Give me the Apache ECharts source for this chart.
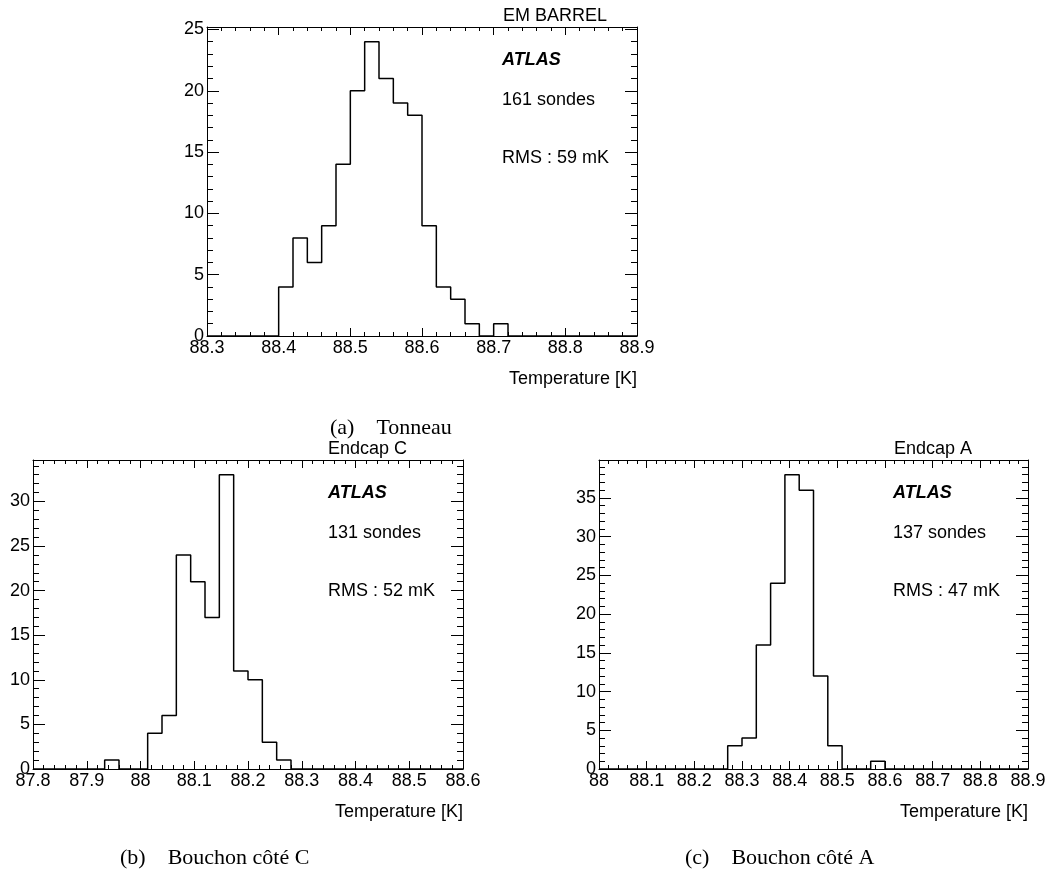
<!DOCTYPE html>
<html>
<head>
<meta charset="utf-8">
<script src="https://cdn.jsdelivr.net/npm/echarts@6/dist/echarts.min.js"></script>
<style>
html,body{margin:0;padding:0;background:#fff;}
#chart{width:1056px;height:879px;}
</style>
</head>
<body>
<div id="chart"></div>
<script>
// ---- Data (counts per bin) ----
const barrelMin = 88.3, barrelMax = 88.9, barrelBin = 0.02;
const barrelCounts = [0,0,0,0,0, 4,8,6,9,14, 20,24,21,19,18, 9,4,3,1,0, 1,0,0,0,0, 0,0,0,0,0];

const endcapCMin = 87.8, endcapCMax = 88.6, endcapCBin = 0.8 / 30;
const endcapCCounts = [0,0,0,0,0, 1,0,0,4,6, 24,21,17,33,11, 10,3,1,0,0, 0,0,0,0,0, 0,0,0,0,0];

const endcapAMin = 88.0, endcapAMax = 88.9, endcapABin = 0.03;
const endcapACounts = [0,0,0,0,0, 0,0,0,0,3, 4,16,24,38,36, 12,3,0,0,1, 0,0,0,0,0, 0,0,0,0,0];

const xTickStep = 0.1;
const yTickStep = 5;
const titles = ['EM BARREL', 'Endcap C', 'Endcap A'];
const nProbes = ['161 sondes', '131 sondes', '137 sondes'];
const rmsTexts = ['RMS : 59 mK', 'RMS : 52 mK', 'RMS : 47 mK'];
const captions = ['(a)\u2003Tonneau', '(b)\u2003Bouchon côté C', '(c)\u2003Bouchon côté A'];
const xTitle = 'Temperature [K]';

// ---- Layout ----
const FONT = "'Liberation Sans', Arial, Helvetica, sans-serif";
const SERIF = "'Liberation Serif', 'Times New Roman', serif";
const grids = [
  {left: 207, top: 27, width: 430, height: 309},
  {left: 33, top: 460, width: 430, height: 309},
  {left: 599, top: 460, width: 429, height: 309}
];
const panels = [
  {min: barrelMin, max: barrelMax, bin: barrelBin, counts: barrelCounts},
  {min: endcapCMin, max: endcapCMax, bin: endcapCBin, counts: endcapCCounts},
  {min: endcapAMin, max: endcapAMax, bin: endcapABin, counts: endcapACounts}
];

function histLine(p) {
  const pts = [];
  const n = p.counts.length;
  const edge = i => Math.round((p.min + i * p.bin) * 1e6) / 1e6;
  pts.push([edge(0), 0]);
  for (let i = 0; i < n; i++) pts.push([edge(i), p.counts[i]]);
  pts.push([edge(n), p.counts[n - 1]]);
  pts.push([edge(n), 0]);
  return pts;
}

const black = {color: '#000', width: 1};
const xAxes = [], yAxes = [], series = [], graphics = [];

panels.forEach((p, g) => {
  const ymax = Math.max(...p.counts) * 1.05;
  const xBase = {
    gridIndex: g, type: 'value', min: p.min, max: p.max, interval: xTickStep,
    axisLine: {show: true, onZero: false, lineStyle: black},
    axisTick: {show: true, inside: true, length: 8, lineStyle: black},
    minorTick: {show: true, splitNumber: 5, length: 4, lineStyle: black},
    splitLine: {show: false}
  };
  xAxes.push(Object.assign({}, xBase, {
    position: 'bottom',
    axisLabel: {show: true, color: '#000', fontSize: 18, fontFamily: FONT, margin: 3,
      showMinLabel: true, showMaxLabel: true, hideOverlap: false}
  }));
  xAxes.push(Object.assign({}, xBase, {position: 'top', axisLabel: {show: false}}));

  const yMajor = {
    gridIndex: g, type: 'value', min: 0, max: ymax, interval: yTickStep,
    axisLine: {show: true, onZero: false, lineStyle: black},
    axisTick: {show: true, inside: true, length: 12, lineStyle: black},
    splitLine: {show: false}
  };
  const yMinor = {
    gridIndex: g, type: 'value', min: 0, max: ymax, interval: 1,
    axisLine: {show: false, onZero: false},
    axisTick: {show: true, inside: true, length: 6, lineStyle: black},
    axisLabel: {show: false},
    splitLine: {show: false}
  };
  yAxes.push(Object.assign({}, yMajor, {
    position: 'left',
    axisLabel: {show: true, color: '#000', fontSize: 18, fontFamily: FONT, margin: 3,
      showMaxLabel: false, hideOverlap: false,
      formatter: v => (Math.abs(v / yTickStep - Math.round(v / yTickStep)) < 1e-6 ? String(Math.round(v)) : '')}
  }));
  yAxes.push(Object.assign({}, yMinor, {position: 'left'}));
  yAxes.push(Object.assign({}, yMajor, {position: 'right', axisLabel: {show: false}}));
  yAxes.push(Object.assign({}, yMinor, {position: 'right'}));

  series.push({
    type: 'line', xAxisIndex: g * 2, yAxisIndex: g * 4, step: 'end',
    showSymbol: false, symbol: 'none', silent: true, clip: true,
    lineStyle: {color: '#000', width: 1.5},
    data: histLine(p)
  });

  const gr = grids[g];
  const right = gr.left + gr.width;
  const bottom = gr.top + gr.height;
  const txt = (x, y, text, align, extra) => graphics.push({
    type: 'text', silent: true,
    style: Object.assign({x: x, y: y, text: text, align: align, verticalAlign: 'middle',
      fill: '#000', font: '18px ' + FONT}, extra || {})
  });
  txt(right - (g === 0 ? 30 : 56), gr.top - 11, titles[g], 'right');
  txt(right - 135, gr.top + 33, 'ATLAS', 'left', {font: 'italic bold 18px ' + FONT});
  txt(right - 135, gr.top + 73, nProbes[g], 'left');
  txt(right - 135, gr.top + 131, rmsTexts[g], 'left');
  txt(right, bottom + 43, xTitle, 'right');
});

// captions
graphics.push({type: 'text', silent: true, style: {x: 330, y: 428, text: captions[0], align: 'left', verticalAlign: 'middle', fill: '#000', font: '22px ' + SERIF}});
graphics.push({type: 'text', silent: true, style: {x: 120, y: 858, text: captions[1], align: 'left', verticalAlign: 'middle', fill: '#000', font: '22px ' + SERIF}});
graphics.push({type: 'text', silent: true, style: {x: 685, y: 858, text: captions[2], align: 'left', verticalAlign: 'middle', fill: '#000', font: '22px ' + SERIF}});

const chart = echarts.init(document.getElementById('chart'), null, {renderer: 'canvas'});
chart.setOption({
  animation: false,
  backgroundColor: '#fff',
  grid: grids,
  xAxis: xAxes,
  yAxis: yAxes,
  series: series,
  graphic: graphics
});
</script>
</body>
</html>
